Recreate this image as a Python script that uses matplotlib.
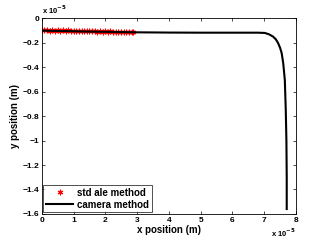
import numpy as np
import matplotlib.pyplot as plt

plt.rcParams['font.family'] = ['Liberation Sans', 'DejaVu Sans']
plt.rcParams['font.weight'] = 'bold'

# positions in units of 1e-5 m
ale_x = [0.00, 0.08, 0.16, 0.25, 0.33, 0.41, 0.50, 0.58, 0.66, 0.75, 0.83,
         0.91, 1.00, 1.08, 1.16, 1.25, 1.33, 1.41, 1.50, 1.58, 1.66, 1.75,
         1.83, 1.91, 2.00, 2.08, 2.16, 2.25, 2.33, 2.41, 2.50, 2.58, 2.66,
         2.75, 2.83, 2.88]
ale_y = [-0.095, -0.099, -0.094, -0.101, -0.097, -0.100, -0.096, -0.102, -0.098,
         -0.103, -0.099, -0.104, -0.100, -0.103, -0.101, -0.105, -0.102, -0.106,
         -0.103, -0.107, -0.104, -0.108, -0.105, -0.109, -0.106, -0.110, -0.107,
         -0.111, -0.108, -0.112, -0.109, -0.112, -0.110, -0.113, -0.111, -0.113]

cam_x = [0.0, 0.5, 1.0, 1.5, 2.0, 2.5, 3.0, 4.0, 5.0, 6.0, 6.8, 7.02, 7.15,
         7.28, 7.37, 7.44, 7.50, 7.55, 7.60, 7.65, 7.68, 7.70, 7.71, 7.71]
cam_y = [-0.100, -0.103, -0.105, -0.108, -0.110, -0.112, -0.114, -0.116,
         -0.117, -0.117, -0.117, -0.119, -0.130, -0.149, -0.172, -0.203,
         -0.240, -0.283, -0.367, -0.504, -0.750, -1.000, -1.300, -1.560]

xticks = [0, 1, 2, 3, 4, 5, 6, 7, 8]
yticks = [0, -0.2, -0.4, -0.6, -0.8, -1.0, -1.2, -1.4, -1.6]
ytick_labels = ['0', '\u22120.2', '\u22120.4', '\u22120.6', '\u22120.8',
                '\u22121', '\u22121.2', '\u22121.4', '\u22121.6']

fig = plt.figure(figsize=(3.27, 2.42), dpi=100)
ax = fig.add_axes([0.128, 0.116, 0.777, 0.808])

ax.plot(ale_x, ale_y, linestyle='none', marker=(6, 2, 0), color='red',
        markersize=4, markeredgewidth=0.8, label='std ale method')
ax.plot(cam_x, cam_y, color='black', linewidth=1.5, label='camera method')

ax.set_xlim(0, 8)
ax.set_ylim(-1.6, 0)
ax.set_xticks(xticks)
ax.set_xticklabels([str(t) for t in xticks])
ax.set_yticks(yticks)
ax.set_yticklabels(ytick_labels)
ax.tick_params(direction='in', top=True, right=True, length=2.5, width=0.5,
               labelsize=6, pad=2)
for s in ax.spines.values():
    s.set_linewidth(0.6)

ax.set_xlabel('x position (m)', fontsize=7, fontweight='bold', labelpad=1)
ax.set_ylabel('y position (m)', fontsize=7, fontweight='bold', labelpad=2)

ax.text(0.0, 1.01, 'x 10$^{-5}$', transform=ax.transAxes, fontsize=5.5,
        ha='left', va='bottom')
ax.text(1.0, -0.065, 'x 10$^{-5}$', transform=ax.transAxes, fontsize=5.5,
        ha='right', va='top')

leg = ax.legend(loc='lower left', fontsize=7, frameon=True, fancybox=False,
                borderpad=0.3, handlelength=2.8, handletextpad=0.4,
                labelspacing=0.2, borderaxespad=0.15)
leg.get_frame().set_edgecolor('black')
leg.get_frame().set_linewidth(0.6)

fig.savefig('out.png', dpi=100)
